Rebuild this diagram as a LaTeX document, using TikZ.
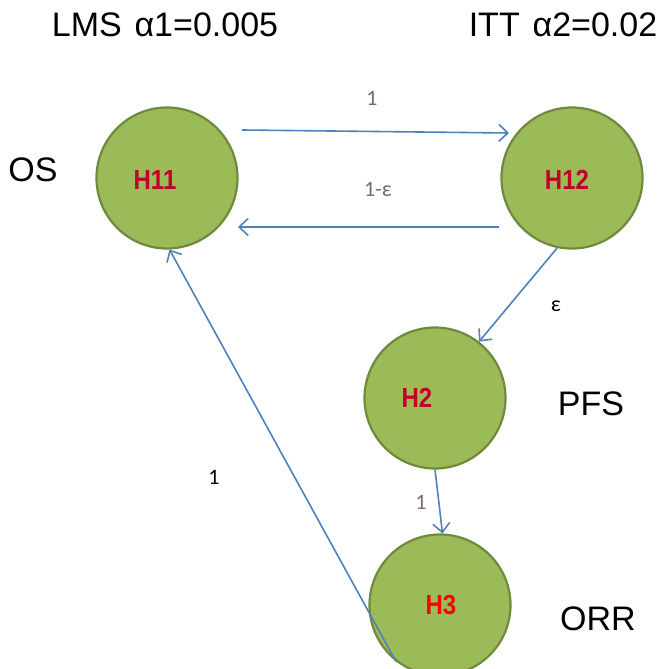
\documentclass[tikz,border=0pt]{standalone}
\usepackage{fontspec}
\setmainfont{Liberation Sans}
\newfontfamily\lblfont{Carlito}
\usetikzlibrary{arrows.meta}
\definecolor{nodegreen}{HTML}{9BBB59}
\definecolor{nodeborder}{HTML}{71893F}
\definecolor{edgeblue}{HTML}{4F81BD}
\definecolor{darkred}{HTML}{C0002A}
\definecolor{lblgray}{HTML}{7D6A68}
\newcommand{\tall}[1]{\scalebox{1}[1.15]{#1}}
\tikzset{
  state/.style={circle, fill=nodegreen, draw=nodeborder, line width=2.2pt, minimum size=141pt, inner sep=0pt},
  statelbl/.style={font=\fontsize{24}{28}\selectfont\bfseries, text=darkred},
  side/.style={font=\fontsize{34}{40}\selectfont, text=black},
  edge/.style={draw=edgeblue, line width=1.6pt, -{Straight Barb[length=9pt,width=17pt,line width=1.6pt]}},
  elbl/.style={font=\lblfont\fontsize{22}{26}\selectfont, text=lblgray},
  elblk/.style={font=\lblfont\fontsize{22}{26}\selectfont, text=black}
}
\begin{document}
\begin{tikzpicture}[x=1pt,y=-1pt]
\useasboundingbox (0,0) rectangle (657,669);
\clip (0,0) rectangle (657,669);
\fill[white] (0,0) rectangle (657,669);
% states
\node[state] (H11) at (167,178) {};
\node[state] (H12) at (572,178) {};
\node[state] (H2) at (435,398) {};
\node[state] (H3) at (440,605) {};
\node[statelbl] (t11) at (155,180) {\tall{H11}};
\node[statelbl] (t12) at (567,180) {\tall{H12}};
\node[statelbl] (t2) at (417,398) {\tall{H2}};
\node[statelbl, text=red] (t3) at (441,605) {\tall{H3}};
% side labels
\node[side] (lms) at (165,25) {LMS\hspace{0.1em} α1=0.005};
\node[side] (itt) at (563,25) {ITT\hspace{0.1em} α2=0.02};
\node[side] (os) at (33,170) {OS};
\node[side] (pfs) at (591,404) {PFS};
\node[side] (orr) at (598,619) {ORR};
% connectors
\coordinate (a1) at (242,130);
\coordinate (a2) at (509,133);
\coordinate (b1) at (499,227);
\coordinate (b2) at (238,227);
\draw[edge] (a1) -- (a2);
\draw[edge] (b1) -- (b2);
\draw[edge] (H12.-102) -- (H2.52);
\draw[edge] (H2.-90) -- (H3.88);
\draw[edge] (H3.232) -- (H11.272);
% edge labels
\node[elbl] (l1) at (372,98) {1};
\node[elbl] (l2) at (378,189) {1-ε};
\node[elblk] (l3) at (556,306) {ε};
\node[elbl] (l4) at (421,502) {1};
\node[elblk] (l5) at (214,477) {1};
\end{tikzpicture}
\end{document}
